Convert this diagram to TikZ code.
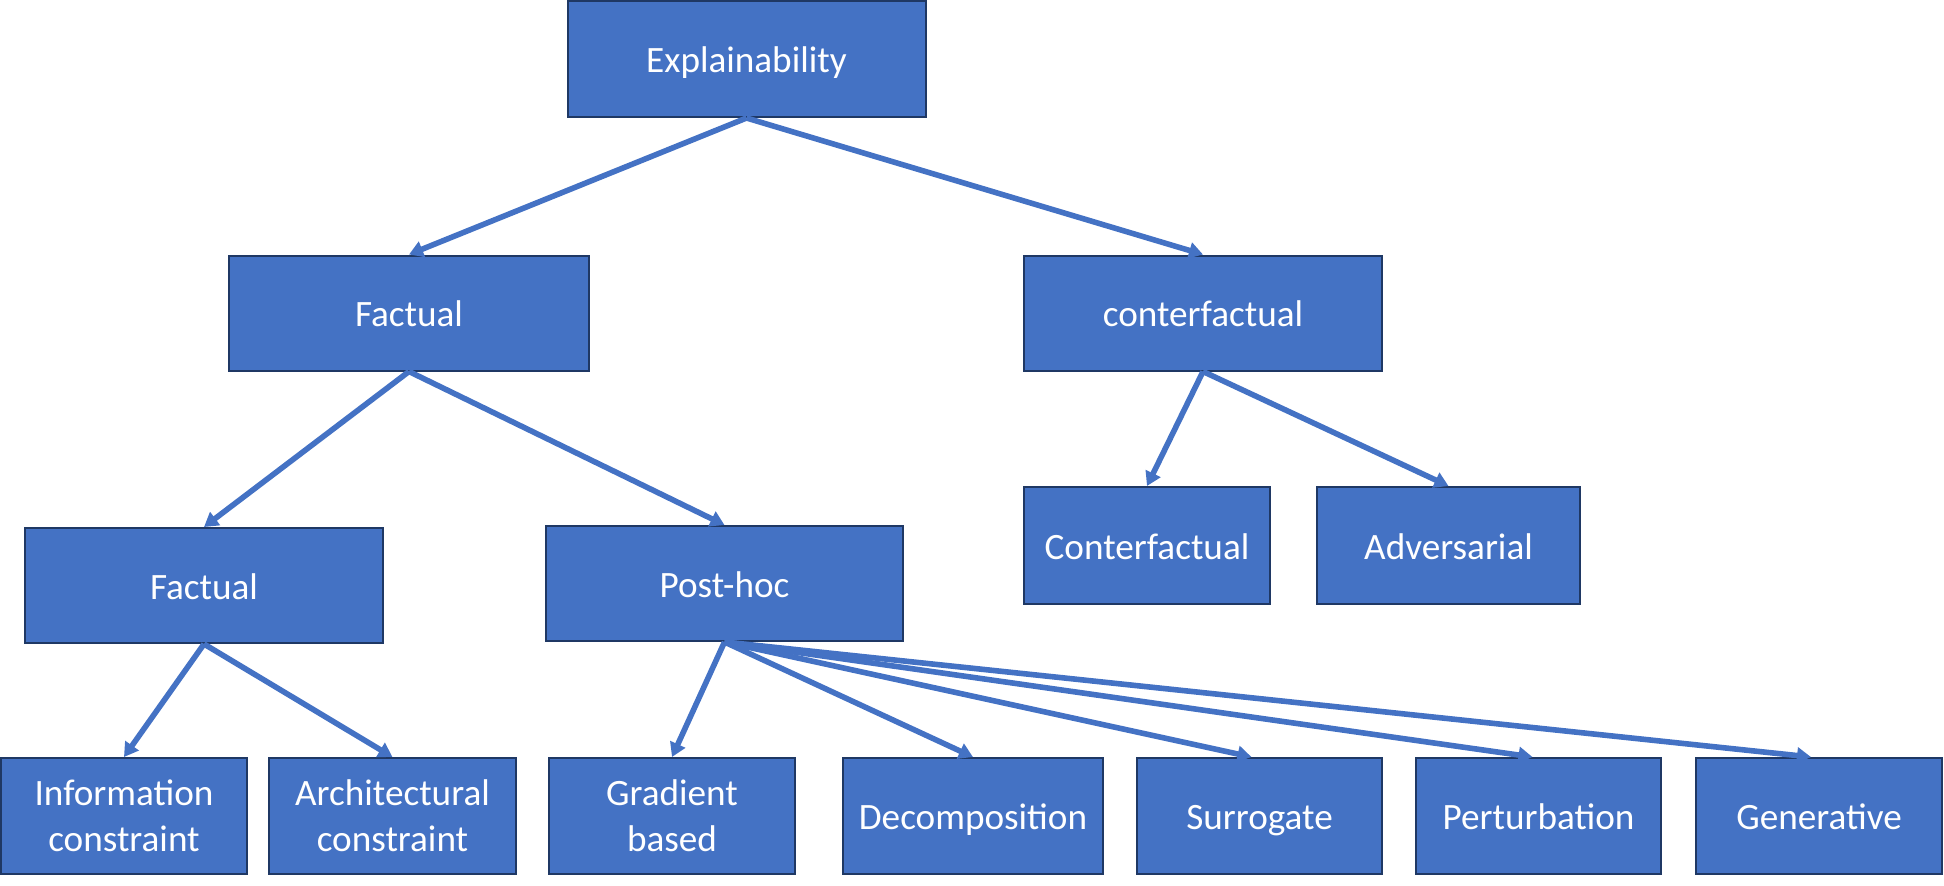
\documentclass[tikz,border=0pt]{standalone}
\usepackage{fontspec}
\setmainfont{Carlito}
\usetikzlibrary{arrows.meta}
\definecolor{boxblue}{HTML}{4472C4}
\definecolor{boxline}{HTML}{1F3864}
\definecolor{arrowblue}{HTML}{4472C4}
\begin{document}
\begin{tikzpicture}[x=0.5pt,y=-0.5pt,
  box/.style={draw=boxline, fill=boxblue, line width=1pt, text=white, inner sep=0pt,
    align=center, font=\fontsize{18.6}{23}\selectfont, minimum height=57.5pt},
  oneline/.style={text height=17.5pt, text depth=4pt},
  conn/.style={draw=arrowblue, line width=2.8pt, -{Triangle[length=7pt,width=8pt]}}]
\useasboundingbox (0,0) rectangle (1944,885);
\node[box, oneline, minimum width=179pt, minimum height=58pt] (expl) at (746.5,59) {Explainability};
\node[box, oneline, minimum width=180pt] (fact1) at (409,313) {Factual};
\node[box, oneline, minimum width=179pt] (cf1) at (1203,313) {conterfactual};
\node[box, oneline, minimum width=179pt] (fact2) at (204,585.5) {Factual};
\node[box, oneline, minimum width=178.5pt] (post) at (724.5,583.5) {Post-hoc};
\node[box, oneline, minimum width=123pt, minimum height=58.5pt] (cf2) at (1147,545.5) {Conterfactual};
\node[box, oneline, minimum width=131.5pt, minimum height=58.5pt] (adv) at (1448.5,545.5) {Adversarial};
\node[box, minimum width=123pt, minimum height=58pt] (info) at (124,816) {Information\\constraint};
\node[box, minimum width=123.5pt, minimum height=58pt] (arch) at (392.5,816) {Architectural\\constraint};
\node[box, minimum width=123pt, minimum height=58pt] (grad) at (672,816) {Gradient\\based};
\node[box, oneline, minimum width=130pt, minimum height=58pt] (decomp) at (973,816) {Decomposition};
\node[box, oneline, minimum width=122.5pt, minimum height=58pt] (surr) at (1259.5,816) {Surrogate};
\node[box, oneline, minimum width=122.5pt, minimum height=58pt] (pert) at (1538.5,816) {Perturbation};
\node[box, oneline, minimum width=123pt, minimum height=58pt] (gen) at (1819,816) {Generative};
\draw[conn] (expl.south) -- (fact1.north);
\draw[conn] (expl.south) -- (cf1.north);
\draw[conn] (fact1.south) -- (fact2.north);
\draw[conn] (fact1.south) -- (post.north);
\draw[conn] (cf1.south) -- (cf2.north);
\draw[conn] (cf1.south) -- (adv.north);
\draw[conn] (fact2.south) -- (info.north);
\draw[conn] (fact2.south) -- (arch.north);
\draw[conn] (post.south) -- (grad.north);
\draw[conn] (post.south) -- (decomp.north);
\draw[conn] (post.south) -- ([xshift=-4pt]surr.north);
\draw[conn] (post.south) -- ([xshift=-3pt]pert.north);
\draw[conn] (post.south) -- ([xshift=-4pt]gen.north);
\end{tikzpicture}
\end{document}
